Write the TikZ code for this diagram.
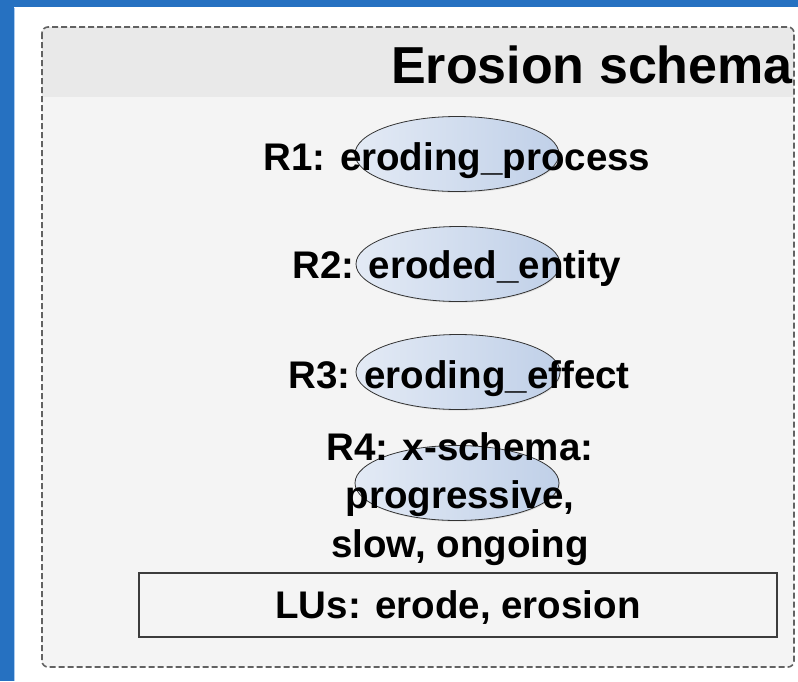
\documentclass[tikz,border=0pt]{standalone}
\usepackage{fontspec}
\setmainfont{Liberation Sans}
\usetikzlibrary{shapes.geometric,shadows}
\definecolor{frameblue}{HTML}{2671C1}
\definecolor{edgeblue}{HTML}{A9CBF0}
\definecolor{panelgrey}{HTML}{F4F4F4}
\definecolor{headergrey}{HTML}{E9E9E9}
\definecolor{dashgrey}{HTML}{626262}
\definecolor{boxline}{HTML}{3C3C3C}
\definecolor{ovallight}{HTML}{E3EAF5}
\definecolor{ovaldark}{HTML}{C0D0E8}
\tikzset{
  roleoval/.style={ellipse, minimum width=204pt, minimum height=75pt, inner sep=0pt,
    draw=black!80, line width=0.8pt, left color=ovallight, right color=ovaldark,
    drop shadow={opacity=0.18, shadow xshift=0.8pt, shadow yshift=-1.2pt}},
  roletext/.style={anchor=base, inner sep=0pt, font=\fontsize{38.5}{48.5}\selectfont\bfseries},
  titletext/.style={anchor=base east, inner sep=0pt, font=\fontsize{52}{60}\selectfont\bfseries},
  lubox/.style={rectangle, draw=boxline, line width=1.3pt, fill=panelgrey,
    minimum width=638pt, minimum height=64pt, inner sep=0pt,
    text height=27.5pt, text depth=0pt, font=\fontsize{38.5}{48.5}\selectfont\bfseries},
  schemaframe/.style={draw=dashgrey, line width=1.6pt, dash pattern=on 6pt off 3pt, rounded corners=6pt}
}
\begin{document}
\begin{tikzpicture}[x=1pt,y=-1pt]
\useasboundingbox (0,0) rectangle (798,681);
% window background
\fill[frameblue] (0,0) rectangle (798,681);
\fill[white] (14,7) rectangle (798,681);
\draw[edgeblue, line width=1pt] (14.5,7.5) -- (14.5,681);
% schema panel with grey header band
\begin{scope}
  \clip[rounded corners=6pt] (42,27) rectangle (794,667);
  \fill[panelgrey] (42,27) rectangle (794,667);
  \fill[headergrey] (42,27) rectangle (794,97);
\end{scope}
\node[titletext] (title) at (793,83) {Erosion schema};
\draw[schemaframe] (42,27) rectangle (794,667);
% role ovals
\node[roleoval] (e1) at (457,154) {};
\node[roleoval] (e2) at (458,264) {};
\node[roleoval] (e3) at (458,372) {};
\node[roleoval] (e4) at (457,483) {};
% role labels
\node[roletext] (t1) at (457,170) {R1: eroding\_process};
\node[roletext] (t2) at (457,278) {R2: eroded\_entity};
\node[roletext] (t3) at (459,388) {R3: eroding\_effect};
\node[roletext, anchor=north, align=center] (t4) at (460,432) {R4: x-schema:\\progressive,\\slow, ongoing};
% lexical units
\node[lubox] (lus) at (458,605) {LUs: erode, erosion};
\end{tikzpicture}
\end{document}
